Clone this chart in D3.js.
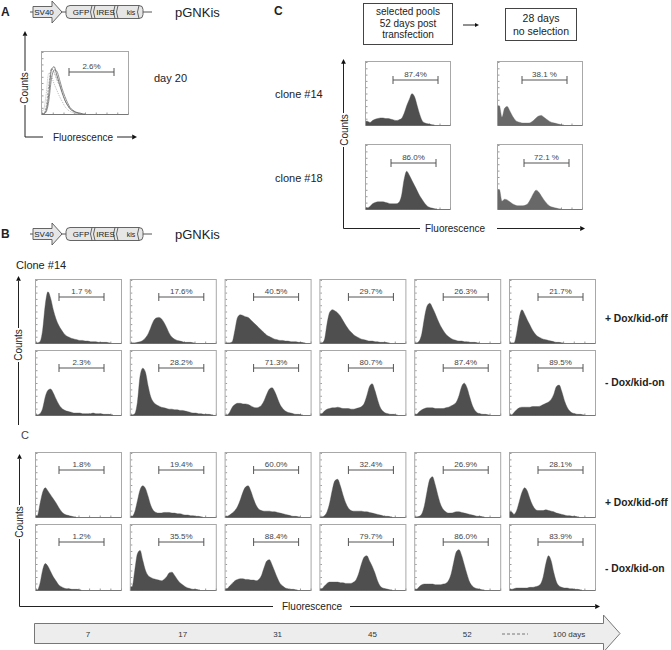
<!DOCTYPE html>
<html><head><meta charset="utf-8">
<script src="https://cdn.jsdelivr.net/npm/d3@7"></script>
<style>
body{margin:0;background:#fff}
svg{display:block}
text{font-family:"Liberation Sans",Arial,Helvetica,sans-serif;fill:#222}
</style>
</head><body>
<svg id="fig" width="671" height="650"></svg>
<script>
// ---------------- DATA ----------------
const days = ["7","17","31","45","52","100 days"];
const rowLabels = ["+ Dox/kid-off","- Dox/kid-on","+ Dox/kid-off","- Dox/kid-on"];
const cloneLabels = ["clone #14","clone #18"];
const cHeaders = [["selected pools","52 days post","transfection"],["28 days","no selection"]];

// percent gate labels
const clone14PlusPct  = ["1.7 %","17.6%","40.5%","29.7%","26.3%","21.7%"];
const clone14MinusPct = ["2.3%","28.2%","71.3%","80.7%","87.4%","89.5%"];
const clone18PlusPct  = ["1.8%","19.4%","60.0%","32.4%","26.9%","28.1%"];
const clone18MinusPct = ["1.2%","35.5%","88.4%","79.7%","86.0%","83.9%"];
const panelCPct = [["87.4%","38.1 %"],["86.0%","72.1 %"]];
const panelAPct = "2.6%";

// histogram counts (32 fluorescence bins, % of panel height; missing tail = 0)
const clone14Plus = [
  [0,2,20,60,80,70,52,38,28,21,15,11,9,7,6,5,4,4,3,3,2,2,2,1,1,1,1,0],
  [0,0,1,2,4,8,14,24,34,39,40,38,32,24,15,9,6,4,3,2,1,1,1,0],
  [0,0,2,20,40,44,43,41,40,36,32,28,24,20,16,12,10,8,6,5,4,4,3,3,2,2,2,1,1,0],
  [0,5,30,48,52,50,47,42,35,28,22,17,13,10,8,6,5,4,3,3,2,2,1,1,1,0],
  [0,3,15,40,58,62,55,46,36,27,20,14,10,7,5,4,3,3,2,2,1,1,1,0],
  [0,0,15,40,52,45,36,28,20,14,10,8,6,5,4,3,2,1,1,0]
];
const clone14Minus = [
  [0,2,10,28,38,40,34,25,17,11,8,6,5,4,3,3,3,2,2,2,2,3,2,2,2,1,1,1,0],
  [0,2,20,60,72,66,45,28,20,16,14,12,11,10,9,9,8,8,7,7,6,5,4,3,3,2,2,1,1,1,0],
  [0,4,12,16,18,18,17,17,16,14,12,11,12,15,22,32,40,42,36,26,16,10,6,4,3,2,1,1,0],
  [2,6,9,10,11,11,12,11,10,10,10,9,9,10,11,13,18,30,44,48,38,24,12,6,3,2,1,1,0],
  [1,5,8,10,11,11,11,10,10,10,10,11,12,14,16,20,30,44,49,42,28,15,7,3,2,1,1,0],
  [0,4,8,11,12,12,12,12,13,13,13,14,16,18,20,24,32,44,46,36,22,12,6,3,2,1,1,0]
];
const clone18Plus = [
  [2,20,38,45,40,34,28,22,15,9,5,3,2,1,0],
  [1,8,25,42,48,44,32,18,10,7,6,6,7,7,7,6,6,5,5,4,3,3,2,2,1,1,0],
  [1,3,6,10,16,26,38,46,48,40,28,18,12,10,9,9,9,8,8,7,6,5,4,3,2,1,1,0],
  [0,2,8,22,42,56,58,48,34,22,14,10,9,9,9,9,8,8,7,6,5,4,3,2,1,1,0],
  [0,1,5,18,40,58,62,50,34,20,12,8,6,6,7,8,8,7,6,5,4,3,2,1,1,0],
  [8,4,10,24,38,45,40,28,18,12,10,10,10,11,10,9,8,6,5,4,3,2,2,1,1,0]
];
const clone18Minus = [
  [0,10,30,40,36,28,20,14,8,5,3,2,2,1,1,1,0],
  [5,30,55,60,45,30,22,19,17,16,15,14,16,20,26,27,22,16,11,8,5,3,2,1,1,0],
  [2,6,10,14,16,17,17,16,16,15,15,14,16,22,34,44,46,38,28,18,10,6,3,2,1,1,0],
  [2,6,10,12,12,12,12,11,11,10,10,10,12,16,26,40,50,52,44,36,26,14,6,3,2,1,0],
  [1,5,8,9,9,9,9,8,8,8,9,10,14,24,42,58,61,52,38,24,12,6,3,2,1,0],
  [1,2,3,3,3,3,3,4,4,5,6,9,20,40,52,44,26,12,6,4,3,3,2,2,1,1,0]
];
const panelC = [
  [[6,4,7,9,10,11,11,10,10,9,8,7,8,10,18,30,40,49,44,30,16,6,3,2,1,0],
   [30,12,26,29,22,14,8,5,4,3,3,3,4,7,11,14,15,12,9,6,4,3,2,1,0]],
  [[2,4,8,10,11,11,11,10,9,8,8,8,10,20,45,58,52,44,36,28,20,14,8,4,2,1,0],
   [30,12,15,14,11,8,6,5,5,5,6,9,16,24,29,26,20,14,9,5,3,2,1,0]]
];
const panelA = [
  [0,5,30,70,75,62,48,34,22,14,8,5,3,2,1,0],
  [0,10,45,72,66,55,45,33,22,14,8,4,2,1,0],
  [5,30,65,60,48,38,28,20,12,7,4,2,1,0],
  [0,3,20,55,70,68,55,40,28,18,10,6,3,1,0]
];

// ---------------- DRAWING ----------------
const svg = d3.select("#fig");
const NB = 32;
const FILL = "#4f4f4f";

function arrowHead(g, x, y, dir, size, color) {
  const s = size || 4;
  let p;
  if (dir === "right") p = [[x, y], [x - s * 1.6, y - s * 0.8], [x - s * 1.6, y + s * 0.8]];
  else p = [[x, y], [x - s * 0.8, y + s * 1.6], [x + s * 0.8, y + s * 1.6]];
  g.append("path").attr("d", "M" + p.map(d => d.join(",")).join("L") + "Z").attr("fill", color || "#111");
}

function drawHist(x, y, w, h, data, opts) {
  const g = svg.append("g").attr("transform", `translate(${x},${y})`);
  g.append("rect").attr("x", 0.5).attr("y", 0.5).attr("width", w).attr("height", h)
    .attr("fill", "#fff").attr("stroke", "#a8a8a8").attr("stroke-width", 1);
  const hx = d3.scaleLinear([0, NB], [1, w]);
  const hy = d3.scaleLinear([0, 100], [h, 0]);
  // ticks
  const bx = g.append("g").attr("transform", `translate(0,${h + 0.5})`)
    .call(d3.axisBottom(d3.scaleLinear([0, 8], [1, w])).ticks(8).tickSize(-2).tickFormat(""));
  const ly = g.append("g").attr("transform", `translate(1,0)`)
    .call(d3.axisLeft(d3.scaleLinear([0, 10], [h, 1])).ticks(10).tickSize(-1.5).tickFormat(""));
  [bx, ly].forEach(a => { a.select(".domain").remove(); a.selectAll("line").attr("stroke", "#999"); });
  g.append("line").attr("x1", 1).attr("x2", w).attr("y1", h + 0.5).attr("y2", h + 0.5).attr("stroke", "#777");

  const series = opts.lines ? data : [data];
  series.forEach((counts, k) => {
    const pts = [[0, counts[0]]].concat(counts.map((v, i) => [i + 0.5, v]));
    pts.push([counts.length, 0]);
    if (opts.lines) {
      const line = d3.line().x(d => hx(d[0])).y(d => hy(d[1])).curve(d3.curveMonotoneX);
      const st = [["#555", null], ["#888", "2,1"], ["#aaa", "1,1"], ["#777", null]][k % 4];
      g.append("path").attr("d", line(pts)).attr("fill", "none").attr("stroke", st[0])
        .attr("stroke-width", 0.8).attr("stroke-dasharray", st[1]);
    } else {
      const area = d3.area().x(d => hx(d[0])).y0(h).y1(d => hy(d[1])).curve(d3.curveMonotoneX);
      g.append("path").attr("d", area(pts)).attr("fill", opts.fill || FILL)
        .attr("stroke", opts.fill || FILL).attr("stroke-width", 0.4);
    }
  });
  // gate bracket
  const b0 = opts.bx, b1 = opts.bx + 45, by = opts.by || 18;
  g.append("path").attr("d", `M${b0},${by}H${b1}M${b0},${by - 4}V${by + 4}M${b1},${by - 4}V${by + 4}`)
    .attr("stroke", "#555").attr("stroke-width", 1).attr("fill", "none");
  g.append("text").attr("x", (b0 + b1) / 2).attr("y", by - 3.5).attr("text-anchor", "middle")
    .attr("font-size", 8).style("fill", "#444").text(opts.pct);
}

function drawConstruct(cy) {
  const g = svg.append("g");
  g.append("line").attr("x1", 30).attr("x2", 152).attr("y1", cy).attr("y2", cy).attr("stroke", "#555");
  g.append("path").attr("d", `M33,${cy - 5.5}H52V${cy - 11}L62,${cy}L52,${cy + 11}V${cy + 5.5}H33Z`)
    .attr("fill", "#e6e6e6").attr("stroke", "#555").attr("stroke-width", 0.9);
  const boxes = [[66, 92, "GFP"], [92, 115, "IRES"], [115, 143, "kis"]];
  g.append("rect").attr("x", 66).attr("y", cy - 6.5).attr("width", 77).attr("height", 13).attr("rx", 4)
    .attr("fill", "#e6e6e6").attr("stroke", "#555").attr("stroke-width", 0.9);
  [92, 95, 115, 118].forEach(xx => {
    g.append("path").attr("d", `M${xx},${cy - 6.5}Q${xx - 3},${cy} ${xx},${cy + 6.5}`)
      .attr("fill", "none").attr("stroke", "#555").attr("stroke-width", 0.9);
  });
  g.append("path").attr("d", `M139,${cy - 6.5}Q136,${cy} 139,${cy + 6.5}`)
    .attr("fill", "none").attr("stroke", "#555").attr("stroke-width", 0.9);
  g.append("text").attr("x", 44).attr("y", cy + 3).attr("text-anchor", "middle").attr("font-size", 8).text("SV40");
  boxes.forEach(b => g.append("text").attr("x", (b[0] + b[1]) / 2 + 2).attr("y", cy + 3)
    .attr("text-anchor", "middle").attr("font-size", b[2] === "kis" ? 7 : 8).text(b[2]));
  g.append("text").attr("x", 175).attr("y", cy + 5).attr("font-size", 13).text("pGNKis");
}

function countsLabel(x, cy) {
  svg.append("rect").attr("x", x - 8).attr("y", cy - 17).attr("width", 16).attr("height", 34).attr("fill", "#fff");
  svg.append("text").attr("transform", `translate(${x + 3.5},${cy}) rotate(-90)`).attr("text-anchor", "middle")
    .attr("font-size", 10).text("Counts");
}

// ---- Panel A ----
svg.append("text").attr("x", 1).attr("y", 16).attr("font-size", 12).attr("font-weight", "bold").text("A");
drawConstruct(12);
svg.append("path").attr("d", "M25,36V137H43").attr("fill", "none").attr("stroke", "#222");
arrowHead(svg, 25, 31, "up", 3);
countsLabel(24, 88);
svg.append("text").attr("x", 53).attr("y", 141).attr("font-size", 10).text("Fluorescence");
svg.append("line").attr("x1", 117).attr("x2", 132).attr("y1", 137).attr("y2", 137).attr("stroke", "#222");
arrowHead(svg, 137, 137, "right", 3);
drawHist(41, 51, 87, 63, panelA, { lines: true, pct: panelAPct, bx: 28, by: 21 });
svg.append("text").attr("x", 154).attr("y", 82).attr("font-size", 11).text("day 20");

// ---- Panel C ----
svg.append("text").attr("x", 274).attr("y", 15).attr("font-size", 12).attr("font-weight", "bold").text("C");
svg.append("rect").attr("x", 363.5).attr("y", 3.5).attr("width", 89).attr("height", 41).attr("fill", "#fff").attr("stroke", "#444");
cHeaders[0].forEach((t, i) => svg.append("text").attr("x", 408).attr("y", 15 + i * 11.5).attr("text-anchor", "middle").attr("font-size", 10).text(t));
svg.append("rect").attr("x", 505.5).attr("y", 8.5).attr("width", 71).attr("height", 32).attr("fill", "#fff").attr("stroke", "#444");
cHeaders[1].forEach((t, i) => svg.append("text").attr("x", 541).attr("y", 22 + i * 12.5).attr("text-anchor", "middle").attr("font-size", 10.5).text(t));
svg.append("line").attr("x1", 463).attr("x2", 475).attr("y1", 25).attr("y2", 25).attr("stroke", "#222");
arrowHead(svg, 479, 25, "right", 2.5);
svg.append("path").attr("d", "M343.5,63V228.5H420").attr("fill", "none").attr("stroke", "#222");
arrowHead(svg, 343.5, 59, "up", 3);
countsLabel(344, 130);
svg.append("text").attr("x", 425).attr("y", 232).attr("font-size", 10).text("Fluorescence");
svg.append("line").attr("x1", 497).attr("x2", 580).attr("y1", 228.5).attr("y2", 228.5).attr("stroke", "#222");
arrowHead(svg, 585, 228.5, "right", 3);
svg.append("text").attr("x", 275).attr("y", 98).attr("font-size", 11).text(cloneLabels[0]);
svg.append("text").attr("x", 275).attr("y", 182).attr("font-size", 11).text(cloneLabels[1]);
const cCols = [365, 497], cRows = [[61, 64], [144, 65]];
const cBx = [[28, 25], [26, 27]];
panelC.forEach((row, r) => row.forEach((d, c) => {
  drawHist(cCols[c], cRows[r][0], 85, cRows[r][1], d,
    { pct: panelCPct[r][c], bx: cBx[r][c], by: 19, fill: c === 1 ? "#686868" : FILL });
}));

// ---- Panel B ----
svg.append("text").attr("x", 1).attr("y", 238).attr("font-size", 12).attr("font-weight", "bold").text("B");
drawConstruct(234);
svg.append("text").attr("x", 16).attr("y", 269).attr("font-size", 11).text("Clone #14");
svg.append("text").attr("x", 21).attr("y", 439).attr("font-size", 11).style("fill", "#444").text("C");

const col = d3.scaleBand().domain(days).range([35, 595]).paddingInner(0.093).paddingOuter(0);
const rows = [
  { top: 279, h: 64, data: clone14Plus, pct: clone14PlusPct },
  { top: 350, h: 65, data: clone14Minus, pct: clone14MinusPct },
  { top: 452, h: 65, data: clone18Plus, pct: clone18PlusPct },
  { top: 524, h: 66, data: clone18Minus, pct: clone18MinusPct }
];
rows.forEach(r => {
  days.forEach((d, i) => {
    drawHist(col(d), r.top, col.bandwidth(), r.h, r.data[i], { pct: r.pct[i], bx: i === 0 ? 24 : 29, by: 18 });
  });
});
const rowLabelY = [322, 386, 506, 572];
rowLabels.forEach((t, i) => svg.append("text").attr("x", 605).attr("y", rowLabelY[i])
  .attr("font-size", 10.3).attr("font-weight", "bold").text(t));

// axes of B
svg.append("line").attr("x1", 18.5).attr("x2", 18.5).attr("y1", 281).attr("y2", 425).attr("stroke", "#222");
arrowHead(svg, 18.5, 276, "up", 3);
countsLabel(18, 345);
svg.append("path").attr("d", "M19.5,459V606.5H273").attr("fill", "none").attr("stroke", "#222");
arrowHead(svg, 19.5, 454, "up", 3);
countsLabel(19, 522);
svg.append("text").attr("x", 312).attr("y", 610).attr("text-anchor", "middle").attr("font-size", 10).text("Fluorescence");
svg.append("line").attr("x1", 350).attr("x2", 595).attr("y1", 606.5).attr("y2", 606.5).attr("stroke", "#222");
arrowHead(svg, 600, 606.5, "right", 3);

// time arrow
svg.append("path").attr("d", "M34.5,623.5H603.5V615L620,633.5L603.5,652V643.5H34.5Z")
  .attr("fill", "#ededed").attr("stroke", "#777").attr("stroke-width", 1);
days.forEach((d, i) => {
  const cx = i === days.length - 1 ? 569 : col(d) + 53;
  svg.append("text").attr("x", cx).attr("y", 637).attr("text-anchor", "middle").attr("font-size", 8).style("fill", "#333").text(d);
});
svg.append("line").attr("x1", 502).attr("x2", 528).attr("y1", 634).attr("y2", 634)
  .attr("stroke", "#777").attr("stroke-dasharray", "3,2");
</script>
</body></html>
